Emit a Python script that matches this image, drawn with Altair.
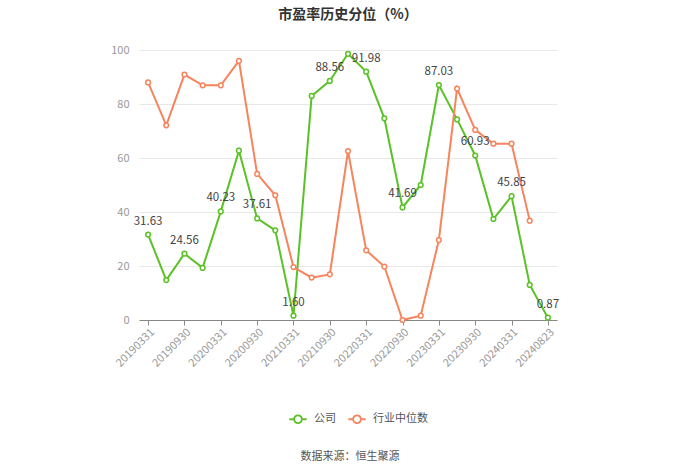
import altair as alt
import pandas as pd

dates = ["20190331","20190630","20190930","20191231","20200331","20200630","20200930","20201231",
         "20210331","20210630","20210930","20211231","20220331","20220630","20220930","20221231",
         "20230331","20230630","20230930","20231231","20240331","20240630","20240823"]
company = [31.63,14.8,24.56,19.3,40.23,62.7,37.61,33.2,1.60,83.0,88.56,98.6,91.98,74.7,41.69,50.0,
           87.03,74.3,60.93,37.4,45.85,13.0,0.87]
industry = [88.0,72.1,90.9,86.9,86.9,96.0,54.1,46.2,19.6,15.7,16.9,62.6,25.8,19.8,0.0,1.6,
            29.6,85.7,70.4,65.3,65.3,36.8,None]
series_names = ["公司", "行业中位数"]
colors = ["#5ac226", "#f7845d"]
label_dates = dates[::2]

rows = []
for i, d in enumerate(dates):
    rows.append({"date": d, "series": series_names[0], "value": company[i],
                 "label": f"{company[i]:.2f}" if i % 2 == 0 else ""})
    if industry[i] is not None:
        rows.append({"date": d, "series": series_names[1], "value": industry[i], "label": ""})
df = pd.DataFrame(rows)

font = "Noto Sans CJK SC"
legend_symbol = "M-1,0L-0.45,0M0.45,0L1,0M0.45,0A0.45,0.45 0 1,1 -0.45,0A0.45,0.45 0 1,1 0.45,0"

x = alt.X("date:N", sort=dates, title=None,
          scale=alt.Scale(type="point", padding=0.5),
          axis=alt.Axis(values=label_dates, labelAngle=-45, labelAlign="right", labelBaseline="top",
                        labelColor="#999999", labelFontSize=11, labelFont=font,
                        domainColor="#888888", tickColor="#888888", tickSize=5,
                        grid=False, labelPadding=1))
y = alt.Y("value:Q", title=None,
          scale=alt.Scale(domain=[0, 100]),
          axis=alt.Axis(values=[0, 20, 40, 60, 80, 100], domain=False, ticks=False,
                        labelColor="#999999", labelFontSize=11, labelFont=font,
                        gridColor="#e8e8e8", labelPadding=10))
color = alt.Color("series:N", sort=series_names,
                  scale=alt.Scale(domain=series_names, range=colors),
                  legend=alt.Legend(title=None, orient="none", direction="horizontal",
                                    legendX=149, legendY=359, symbolType=legend_symbol,
                                    symbolSize=300, symbolStrokeWidth=1.8, symbolFillColor="white",
                                    labelFont=font, labelFontSize=11, labelColor="#555555",
                                    columnPadding=8, symbolOffset=0, labelOffset=6))

lines = alt.Chart(df).mark_line(strokeWidth=2, point=alt.OverlayMarkDef(filled=False, fill="white", size=22, strokeWidth=1.5)).encode(
    x=x, y=y, color=color, detail="series:N")

labels = alt.Chart(df).transform_filter("datum.label != ''").mark_text(
    dy=-13, fontSize=11.5, font=font, color="#444444").encode(
    x=alt.X("date:N", sort=dates), y="value:Q", text="label:N")

source = alt.Chart(pd.DataFrame({"t": ["数据来源：恒生聚源"]})).mark_text(
    fontSize=11, font=font, color="#555555").encode(
    text="t:N", x=alt.value(211), y=alt.value(407))

chart = alt.layer(lines, labels, source).properties(
    width=418, height=270,
    title=alt.TitleParams("市盈率历史分位（%）", font=font, fontSize=14, fontWeight="bold",
                          color="#333333", anchor="middle", offset=22),
    autosize=alt.AutoSizeParams(type="none"),
    padding={"left": 139, "top": 50, "right": 143, "bottom": 154},
).configure_view(stroke=None)

chart.save("out.html", embed_options={"renderer": "svg", "actions": False})
